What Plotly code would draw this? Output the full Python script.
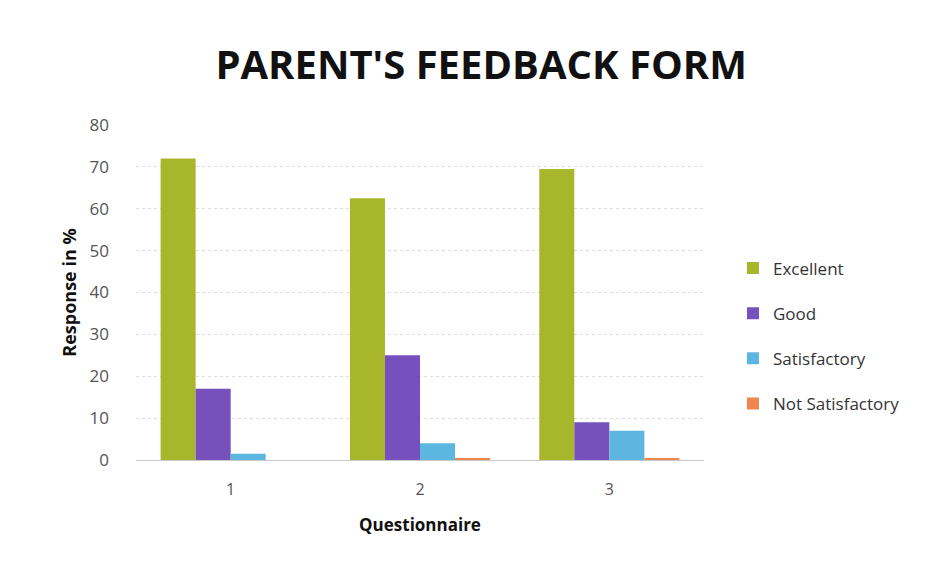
import plotly.graph_objects as go

questions = ["1", "2", "3"]
excellent = [72, 62.5, 69.5]
good = [17, 25, 9]
satisfactory = [1.5, 4, 7]
not_satisfactory = [0, 0.5, 0.4]

series = [
    ("Excellent", excellent, "#a8b62c"),
    ("Good", good, "#7650bd"),
    ("Satisfactory", satisfactory, "#5db6e0"),
    ("Not Satisfactory", not_satisfactory, "#ef8650"),
]

fig = go.Figure()
for name, vals, col in series:
    fig.add_trace(go.Bar(x=questions, y=vals, name=name, marker_color=col,
                         marker_line_width=0, legendgroup=name))

fig.update_layout(
    width=935, height=565,
    paper_bgcolor="white", plot_bgcolor="white",
    barmode="group", bargap=0.26, bargroupgap=0,
    margin=dict(l=128, r=239, t=117, b=113),
    title=dict(text="<b>PARENT'S FEEDBACK FORM</b>", x=0.506, xanchor="center",
               y=0.899, yanchor="middle",
               font=dict(family="Open Sans", size=40, color="#111111")),
    font=dict(family="Open Sans", color="#444444"),
    legend=dict(x=1.051, y=0.37, xanchor="left", yanchor="middle",
                font=dict(size=17, color="#333333"), tracegroupgap=20,
                itemwidth=30, bgcolor="rgba(0,0,0,0)"),
    xaxis=dict(title=dict(text="<b>Questionnaire</b>", font=dict(size=17, color="#111111"), standoff=19),
               tickfont=dict(size=16, color="#555555"), ticklabelstandoff=15,
               showline=True, linecolor="#c8c8c8", ticks="", showgrid=False),
    yaxis=dict(title=dict(text="<b>Response in %</b>", font=dict(size=18, color="#111111"), standoff=8),
               range=[0, 80], dtick=10, tickfont=dict(size=17, color="#555555"),
               ticklabelstandoff=26,
               showgrid=True, gridcolor="#dddddd", griddash="dot", zeroline=False,
               showline=False, ticks=""),
)

fig.write_html("out.html")
